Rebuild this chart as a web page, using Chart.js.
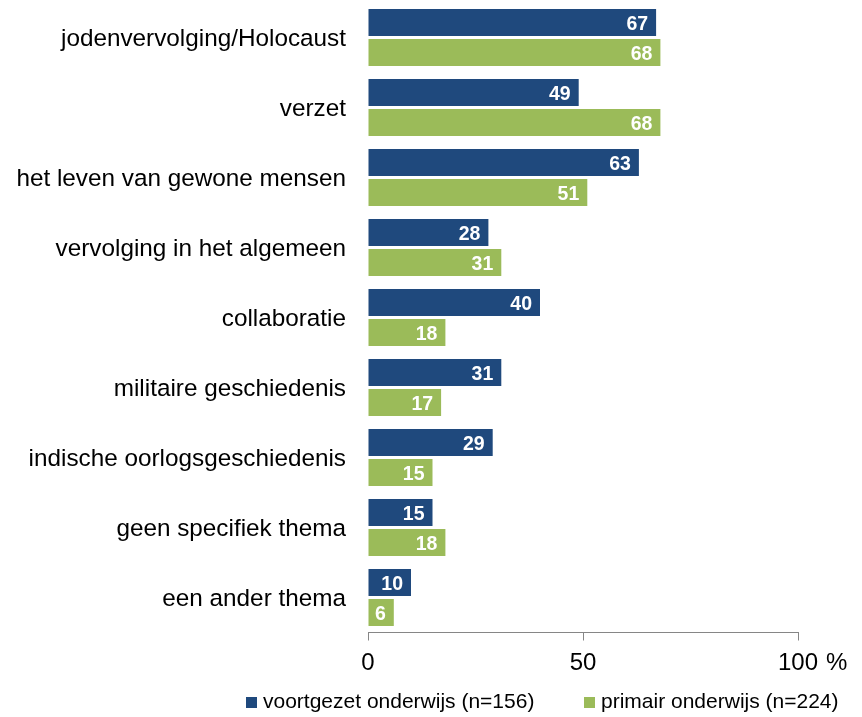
<!DOCTYPE html>
<html>
<head>
<meta charset="utf-8">
<script src="https://cdn.jsdelivr.net/npm/chart.js@4.4.0/dist/chart.umd.min.js"></script>
<style>
  html, body { margin: 0; padding: 0; background: #ffffff; }
  #wrap { width: 862px; height: 717px; position: relative; }
  canvas { display: block; }
</style>
</head>
<body>
<div id="wrap"><canvas id="chart" width="862" height="717" style="width:862px;height:717px"></canvas></div>
<script>
const categories = [
  'jodenvervolging/Holocaust',
  'verzet',
  'het leven van gewone mensen',
  'vervolging in het algemeen',
  'collaboratie',
  'militaire geschiedenis',
  'indische oorlogsgeschiedenis',
  'geen specifiek thema',
  'een ander thema'
];
const voortgezetOnderwijs = [67, 49, 63, 28, 40, 31, 29, 15, 10];
const primairOnderwijs = [68, 68, 51, 31, 18, 17, 15, 18, 6];
const seriesNames = ['voortgezet onderwijs (n=156)', 'primair onderwijs (n=224)'];
const xTickValues = [0, 50, 100];
const unitLabel = '%';

const FONT = '"Liberation Sans", Arial, Helvetica, sans-serif';
const BLUE = '#1F497D';
const GREEN = '#9BBB59';
const AXIS = '#868686';

const valueLabels = {
  id: 'valueLabels',
  afterDatasetsDraw(chart) {
    const ctx = chart.ctx;
    ctx.save();
    ctx.font = 'bold 19.5px ' + FONT;
    ctx.fillStyle = '#ffffff';
    ctx.textAlign = 'right';
    ctx.textBaseline = 'middle';
    chart.data.datasets.forEach((ds, i) => {
      chart.getDatasetMeta(i).data.forEach((bar, j) => {
        ctx.fillText(String(ds.data[j]), bar.x - 8, bar.y + 2);
      });
    });
    ctx.restore();
  }
};

const unitAndLegend = {
  id: 'unitAndLegend',
  afterDraw(chart) {
    const ctx = chart.ctx;
    const xs = chart.scales.x;
    ctx.save();
    ctx.font = '24px ' + FONT;
    ctx.fillStyle = '#000000';
    ctx.textAlign = 'left';
    ctx.textBaseline = 'middle';
    ctx.fillText(unitLabel, xs.getPixelForValue(xTickValues[xTickValues.length - 1]) + 28, xs.top + 31);
    const items = [
      { sx: 246, tx: 263 },
      { sx: 584, tx: 601 }
    ];
    ctx.font = '21px ' + FONT;
    ctx.textBaseline = 'alphabetic';
    chart.data.datasets.forEach((ds, i) => {
      const it = items[i];
      ctx.fillStyle = ds.backgroundColor;
      ctx.fillRect(it.sx, 697, 11, 11);
      ctx.fillStyle = '#000000';
      ctx.fillText(ds.label, it.tx, 708);
    });
    ctx.restore();
  }
};

new Chart(document.getElementById('chart'), {
  type: 'bar',
  data: {
    labels: categories,
    datasets: [
      { label: seriesNames[0], data: voortgezetOnderwijs, backgroundColor: BLUE, borderWidth: 0,
        categoryPercentage: 0.857, barPercentage: 0.9 },
      { label: seriesNames[1], data: primairOnderwijs, backgroundColor: GREEN, borderWidth: 0,
        categoryPercentage: 0.857, barPercentage: 0.9 }
    ]
  },
  options: {
    indexAxis: 'y',
    responsive: false,
    animation: false,
    devicePixelRatio: 1,
    layout: { padding: { top: 2.5, right: 64, bottom: 40, left: 0 } },
    plugins: {
      legend: { display: false },
      tooltip: { enabled: false }
    },
    scales: {
      x: {
        min: 0,
        max: 100,
        afterBuildTicks(scale) { scale.ticks = xTickValues.map(v => ({ value: v })); },
        grid: { display: true, drawOnChartArea: false, drawTicks: true, tickLength: 8, color: AXIS, lineWidth: 1 },
        border: { display: true, color: AXIS, width: 1 },
        ticks: { font: { size: 24, family: FONT }, color: '#000000', padding: 8, maxRotation: 0, autoSkip: false },
        afterFit(scale) { scale.height = 44.5; scale.paddingLeft = 0; scale.paddingRight = 0; }
      },
      y: {
        grid: { display: false, drawTicks: false },
        border: { display: false },
        ticks: { font: { size: 24.3, family: FONT }, color: '#000000', padding: 22, labelOffset: 2, autoSkip: false },
        afterFit(scale) { scale.width = 368; scale.paddingTop = 0; scale.paddingBottom = 0; }
      }
    }
  },
  plugins: [valueLabels, unitAndLegend]
});
</script>
</body>
</html>
